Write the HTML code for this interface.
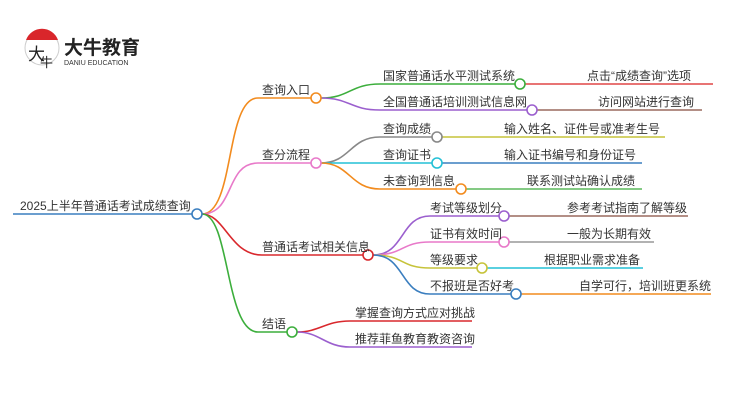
<!DOCTYPE html>
<html><head><meta charset="utf-8"><style>
html,body{margin:0;padding:0;background:#fff;width:750px;height:410px;overflow:hidden}
text{font-family:"Liberation Sans","Noto Sans CJK SC",sans-serif;font-size:12px;fill:#333}
</style></head><body>
<svg width="750" height="410" viewBox="0 0 750 410" xmlns="http://www.w3.org/2000/svg">
<!-- logo -->
<circle cx="42" cy="48" r="17" fill="#fff" stroke="#ccc" stroke-width="1"/>
<path d="M26 40 A17 17 0 0 1 58 40 Z" fill="#d9262b"/>
<text x="28" y="60" style="font-size:17px;fill:#222">大</text>
<text x="40" y="67" style="font-size:13px;fill:#222">牛</text>
<text x="64" y="54" style="font-size:19px;font-weight:bold;fill:#222">大牛教育</text>
<text x="64" y="65" style="font-size:7px;fill:#333">DANIU EDUCATION</text>

<g fill="none" stroke-width="1.6">
<line x1="13" y1="214" x2="192" y2="214" stroke="#3a7ebf"/>
<path d="M202 214 C235 214 225 98 258 98 L311 98" stroke="#f28b1e"/>
<path d="M202 214 C235 214 225 163 258 163 L311 163" stroke="#e879c9"/>
<path d="M202 214 C225 214 230 255 262 255 L363 255" stroke="#d9282d"/>
<path d="M202 214 C230 214 225 332 258 332 L287 332" stroke="#3cae3c"/>
<!-- branch 1 -->
<path d="M321 98 C350 98 350 84 380 84 L515 84" stroke="#3cae3c"/>
<path d="M321 98 C350 98 350 110 380 110 L527 110" stroke="#9b5fce"/>
<line x1="525" y1="84" x2="713" y2="84" stroke="#e04747"/>
<line x1="537" y1="110" x2="702" y2="110" stroke="#9a6a5e"/>
<!-- branch 2 -->
<path d="M321 163 C350 163 350 137 380 137 L432 137" stroke="#888"/>
<line x1="321" y1="163" x2="432" y2="163" stroke="#24c0d6"/>
<path d="M321 163 C350 163 350 189 380 189 L456 189" stroke="#f28b1e"/>
<line x1="442" y1="137" x2="665" y2="137" stroke="#c6c33a"/>
<line x1="442" y1="163" x2="642" y2="163" stroke="#3a7ebf"/>
<line x1="466" y1="189" x2="642" y2="189" stroke="#5bb85b"/>
<!-- branch 3 -->
<path d="M373 255 C405 255 400 216 430 216 L499 216" stroke="#9b5fce"/>
<path d="M373 255 C405 255 400 242 430 242 L499 242" stroke="#e879c9"/>
<path d="M373 255 C405 255 400 268 430 268 L477 268" stroke="#c6c33a"/>
<path d="M373 255 C405 255 400 294 430 294 L511 294" stroke="#3a7ebf"/>
<line x1="509" y1="216" x2="688" y2="216" stroke="#9a6a5e"/>
<line x1="509" y1="242" x2="654" y2="242" stroke="#999"/>
<line x1="487" y1="268" x2="643" y2="268" stroke="#24c0d6"/>
<line x1="521" y1="294" x2="711" y2="294" stroke="#f28b1e"/>
<!-- branch 4 -->
<path d="M297 332 C320 332 325 321 350 321 L472 321" stroke="#d9282d"/>
<path d="M297 332 C320 332 325 347 350 347 L472 347" stroke="#9b5fce"/>
</g>
<g fill="#fff" stroke-width="1.6">
<circle cx="197" cy="214" r="5" stroke="#3a7ebf"/>
<circle cx="316" cy="98" r="5" stroke="#f28b1e"/>
<circle cx="316" cy="163" r="5" stroke="#e879c9"/>
<circle cx="368" cy="255" r="5" stroke="#d9282d"/>
<circle cx="292" cy="332" r="5" stroke="#3cae3c"/>
<circle cx="520" cy="84" r="5" stroke="#3cae3c"/>
<circle cx="532" cy="110" r="5" stroke="#9b5fce"/>
<circle cx="437" cy="137" r="5" stroke="#888"/>
<circle cx="437" cy="163" r="5" stroke="#24c0d6"/>
<circle cx="461" cy="189" r="5" stroke="#f28b1e"/>
<circle cx="504" cy="216" r="5" stroke="#9b5fce"/>
<circle cx="504" cy="242" r="5" stroke="#e879c9"/>
<circle cx="482" cy="268" r="5" stroke="#c6c33a"/>
<circle cx="516" cy="294" r="5" stroke="#3a7ebf"/>
</g>
<text x="20" y="210">2025上半年普通话考试成绩查询</text>
<text x="262" y="94">查询入口</text>
<text x="262" y="159">查分流程</text>
<text x="262" y="251">普通话考试相关信息</text>
<text x="262" y="328">结语</text>
<text x="383" y="80">国家普通话水平测试系统</text>
<text x="383" y="106">全国普通话培训测试信息网</text>
<text x="587" y="80">点击“成绩查询”选项</text>
<text x="598" y="106">访问网站进行查询</text>
<text x="383" y="133">查询成绩</text>
<text x="383" y="159">查询证书</text>
<text x="383" y="185">未查询到信息</text>
<text x="504" y="133">输入姓名、证件号或准考生号</text>
<text x="504" y="159">输入证书编号和身份证号</text>
<text x="527" y="185">联系测试站确认成绩</text>
<text x="430" y="212">考试等级划分</text>
<text x="430" y="238">证书有效时间</text>
<text x="430" y="264">等级要求</text>
<text x="430" y="290">不报班是否好考</text>
<text x="567" y="212">参考考试指南了解等级</text>
<text x="567" y="238">一般为长期有效</text>
<text x="544" y="264">根据职业需求准备</text>
<text x="579" y="290">自学可行，培训班更系统</text>
<text x="355" y="317">掌握查询方式应对挑战</text>
<text x="355" y="343">推荐菲鱼教育教资咨询</text>
</svg>
</body></html>
